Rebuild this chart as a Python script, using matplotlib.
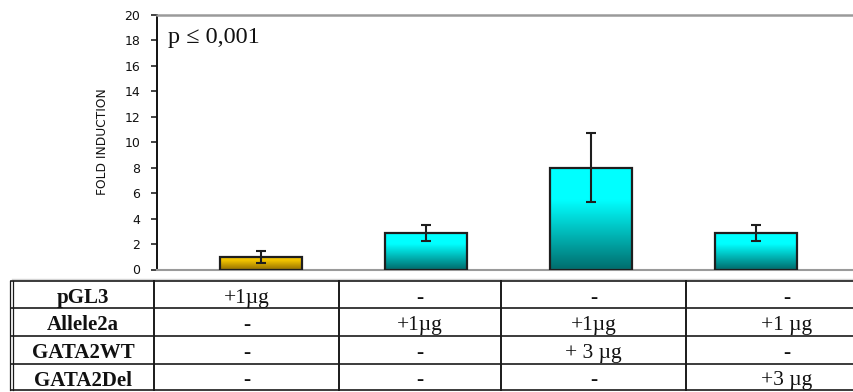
import numpy as np
import matplotlib.pyplot as plt
from matplotlib.colors import LinearSegmentedColormap
from matplotlib.lines import Line2D

# fold induction per transfection
values = [0.95, 2.87, 8.0, 2.87]
errors = [0.47, 0.66, 2.7, 0.66]
bar_colors = [("#f2c400", "#9c7600"), ("#00ffff", "#006e6e"),
              ("#00ffff", "#006e6e"), ("#00ffff", "#006e6e")]

yticks = list(range(0, 21, 2))

# transfection table under the chart
row_names = ["pGL3", "Allele2a", "GATA2WT", "GATA2Del"]
cells = [
    ["+1µg", "-", "-", "-"],
    ["-", "+1µg", "+1µg", "+1 µg"],
    ["-", "-", "+ 3 µg", "-"],
    ["-", "-", "-", "+3 µg"],
]

W, H = 854, 392
fig = plt.figure(figsize=(W / 100, H / 100), dpi=100)


def fx(x):
    return x / W


def fy(y):
    return 1 - y / H


# plot area in pixels: y axis at x=157, top at 15, zero line at 269.5
left, right, top, bottom = 157, 880, 15, 269.5
ax = fig.add_axes([fx(left), fy(bottom), fx(right - left), (bottom - top) / H])

x = np.arange(len(values))
width = 0.5
step = 165.0
x0 = 261.0

for xi, v, (c_top, c_bot) in zip(x, values, bar_colors):
    cmap = LinearSegmentedColormap.from_list(
        "g", [(0, c_bot), (0.68, c_top), (1, c_top)])
    grad = np.linspace(0, 1, 256).reshape(-1, 1)
    ax.imshow(grad, extent=[xi - width / 2, xi + width / 2, 0, v],
              origin="lower", aspect="auto", cmap=cmap, zorder=2)

ax.bar(x, values, width=width, fill=False, edgecolor="#1e1e1e",
       linewidth=1.6, zorder=3)
ax.errorbar(x, values, yerr=errors, fmt="none", ecolor="#1e1e1e",
            elinewidth=1.5, capsize=3.3, capthick=1.5, zorder=4)

ax.set_xlim((left - x0) / step, (right - x0) / step)
ax.set_ylim(0, 20)
ax.set_yticks(yticks)
ax.set_xticks([])
ax.tick_params(axis="y", direction="out", length=4, width=1.1, pad=8,
               labelsize=9, colors="#111111")
for lab in ax.get_yticklabels():
    lab.set_family("DejaVu Sans")

ax.spines["right"].set_visible(False)
ax.spines["top"].set_color("#9a9a9a")
ax.spines["top"].set_linewidth(1.8)
ax.spines["bottom"].set_color("#9a9a9a")
ax.spines["bottom"].set_linewidth(1.5)
ax.spines["left"].set_color("#111111")
ax.spines["left"].set_linewidth(1.4)
ax.set_facecolor("white")

fig.text(fx(168), fy(37), "p \u2264 0,001", family="Liberation Serif",
         fontsize=17.5, va="center", ha="left", color="#111111")
fig.text(fx(103), fy(142), "FOLD INDUCTION", rotation=90, family="DejaVu Sans",
         fontsize=8.8, va="center", ha="center", color="#111111")

# table grid
fig.add_artist(Line2D([fx(12), fx(W)], [fy(278.5), fy(278.5)],
                      color="#d4d4d4", lw=1))
row_edges = [281, 307.5, 335.5, 363.5, 389.5]
col_edges = [12, 154, 339, 501, 686, 888]
for y in row_edges:
    fig.add_artist(Line2D([fx(11), fx(W)], [fy(y), fy(y)],
                          color="#1a1a1a", lw=1.2))
for xv in [10.5, 13.5]:
    fig.add_artist(Line2D([fx(xv), fx(xv)], [fy(281), fy(389.5)],
                          color="#1a1a1a", lw=0.9))
for xv in col_edges[1:-1]:
    fig.add_artist(Line2D([fx(xv), fx(xv)], [fy(281), fy(389.5)],
                          color="#1a1a1a", lw=1.4))

col_centers = [(a + b) / 2 for a, b in zip(col_edges[:-1], col_edges[1:])]
for i, name in enumerate(row_names):
    yc = (row_edges[i] + row_edges[i + 1]) / 2 + 1.5
    fig.text(fx(col_centers[0]), fy(yc), name, family="Liberation Serif",
             fontweight="bold", fontsize=15, ha="center", va="center_baseline",
             color="#111111")
    for j, txt in enumerate(cells[i]):
        fig.text(fx(col_centers[j + 1]), fy(yc), txt, family="Liberation Serif",
                 fontsize=15.5, ha="center", va="center_baseline",
                 color="#111111")

fig.savefig("out.png", dpi=100, facecolor="white")
